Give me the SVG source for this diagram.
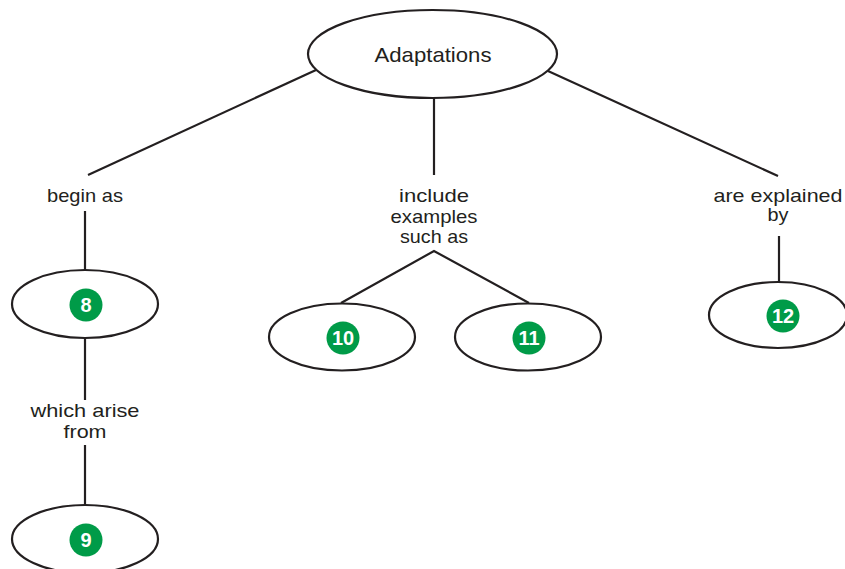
<svg xmlns="http://www.w3.org/2000/svg" width="845" height="569" viewBox="0 0 845 569">
  <style>
    .node { fill: #ffffff; stroke: #231f20; stroke-width: 2.2; }
    .edge { stroke: #231f20; stroke-width: 2.2; fill: none; }
    .label { font-family: "Liberation Sans", "DejaVu Sans", sans-serif; font-size: 19px; fill: #231f20; text-anchor: middle; }
    .title { font-family: "Liberation Sans", "DejaVu Sans", sans-serif; font-size: 21px; fill: #231f20; text-anchor: middle; }
    .badge { fill: #009b48; }
    .num { font-family: "Liberation Sans", "DejaVu Sans", sans-serif; font-size: 20px; font-weight: bold; fill: #ffffff; text-anchor: middle; }
  </style>
  <rect width="845" height="569" fill="#ffffff"/>

  <!-- connectors and linking phrases -->
  <g id="connectors">
    <line class="edge" x1="316" y1="70" x2="88" y2="175"/>
    <line class="edge" x1="434" y1="98" x2="434" y2="175"/>
    <line class="edge" x1="548" y1="71" x2="778" y2="176"/>
    <line class="edge" x1="85" y1="211" x2="85" y2="270"/>
    <line class="edge" x1="85" y1="338" x2="85" y2="400"/>
    <line class="edge" x1="85" y1="445" x2="85" y2="505"/>
    <polyline class="edge" points="341,303 434,251 529,303"/>
    <line class="edge" x1="779" y1="236" x2="779" y2="282"/>

    <text class="label" x="85" y="202" textLength="76" lengthAdjust="spacingAndGlyphs">begin as</text>
    <text class="label" x="434" y="202" textLength="70" lengthAdjust="spacingAndGlyphs">include</text>
    <text class="label" x="434" y="223" textLength="87" lengthAdjust="spacingAndGlyphs">examples</text>
    <text class="label" x="434" y="243" textLength="68" lengthAdjust="spacingAndGlyphs">such as</text>
    <text class="label" x="778" y="202" textLength="129" lengthAdjust="spacingAndGlyphs">are explained</text>
    <text class="label" x="778" y="221" textLength="21" lengthAdjust="spacingAndGlyphs">by</text>
    <text class="label" x="85" y="417" textLength="109" lengthAdjust="spacingAndGlyphs">which arise</text>
    <text class="label" x="85" y="438" textLength="43" lengthAdjust="spacingAndGlyphs">from</text>
  </g>

  <g id="adaptations">
    <ellipse class="node" cx="432.5" cy="54" rx="124.5" ry="44"/>
    <text class="title" x="433" y="62" textLength="117" lengthAdjust="spacingAndGlyphs">Adaptations</text>
  </g>

  <g id="node-8">
    <ellipse class="node" cx="85" cy="304" rx="73" ry="34"/>
    <circle class="badge" cx="86" cy="305" r="16.5"/>
    <text class="num" x="86" y="312">8</text>
  </g>

  <g id="node-9">
    <ellipse class="node" cx="85" cy="539" rx="73" ry="34"/>
    <circle class="badge" cx="86" cy="540" r="16.5"/>
    <text class="num" x="86" y="547">9</text>
  </g>

  <g id="node-10">
    <ellipse class="node" cx="342" cy="337" rx="73" ry="33.5"/>
    <circle class="badge" cx="343" cy="338" r="16.5"/>
    <text class="num" x="343" y="345">10</text>
  </g>

  <g id="node-11">
    <ellipse class="node" cx="528" cy="337" rx="73" ry="33.5"/>
    <circle class="badge" cx="529" cy="338" r="16.5"/>
    <text class="num" x="529" y="345">11</text>
  </g>

  <g id="node-12">
    <ellipse class="node" cx="778" cy="315" rx="69" ry="33"/>
    <circle class="badge" cx="783" cy="316" r="16.5"/>
    <text class="num" x="783" y="323">12</text>
  </g>
</svg>
